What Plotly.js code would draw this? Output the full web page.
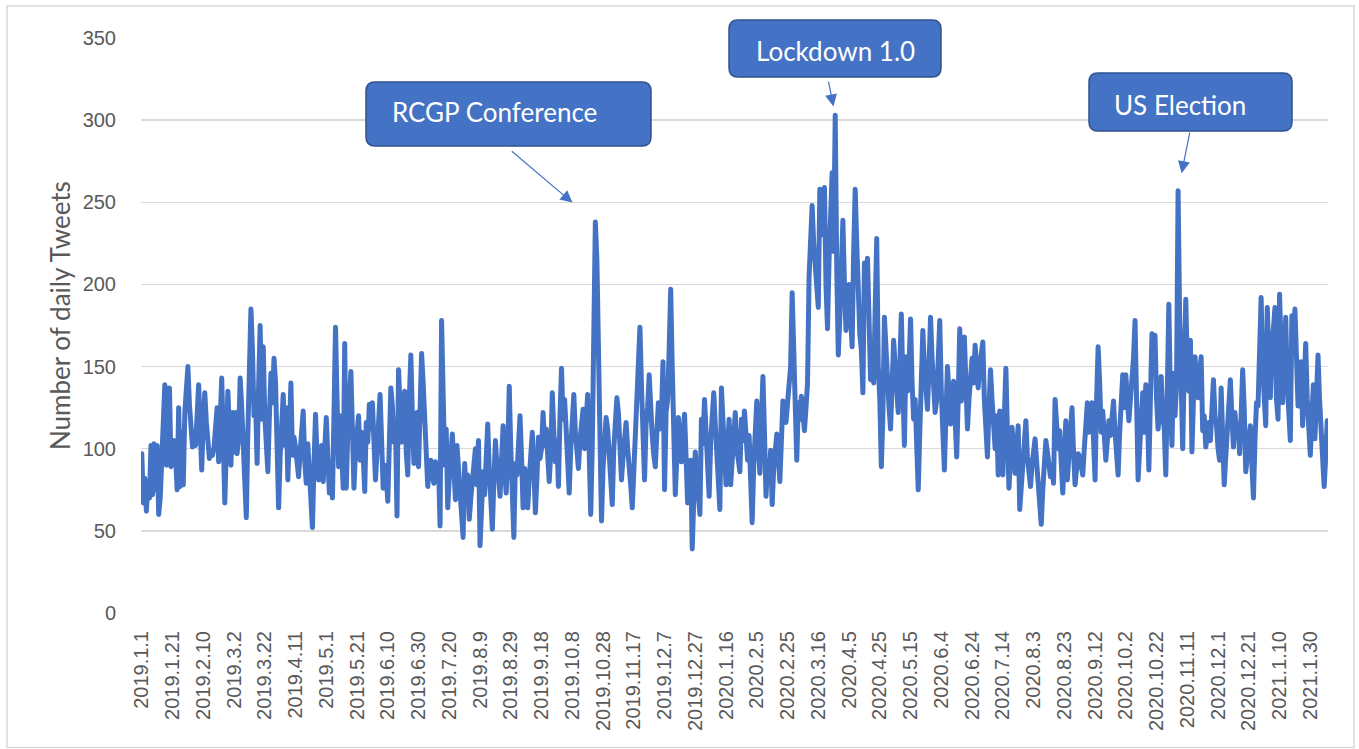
<!DOCTYPE html>
<html>
<head>
<meta charset="utf-8">
<script src="https://cdn.plot.ly/plotly-3.0.1.min.js"></script>
<style>
html,body{margin:0;padding:0;background:#fff;}
#chart{width:1359px;height:749px;}
.scatterlayer .js-line{stroke-linejoin:round !important;stroke-linecap:round !important;}
</style>
</head>
<body>
<div id="chart"></div>
<script>
// ---------------- data ----------------
const startDate = '2019-01-01';
const dailyTweets = [
97,67,82,62,78,70,102,72,103,75,
102,60,70,98,126,139,90,105,137,89,
92,105,96,75,125,77,110,78,122,140,
150,127,115,101,110,102,120,139,112,87,
118,134,116,100,94,99,96,101,110,125,
92,117,143,106,67,100,135,112,90,122,
98,122,97,107,143,125,105,94,58,110,
150,185,160,120,130,91,138,175,118,162,
120,100,86,120,146,128,155,140,100,64,
95,118,133,102,125,81,110,140,96,107,
101,94,83,98,108,123,92,79,103,84,
66,52,90,121,95,81,98,102,80,110,
119,96,73,92,70,120,174,130,89,120,
100,76,164,
76,110,128,147,112,76,98,
108,120,93,110,96,74,116,104,127,112,
128,100,81,98,112,133,105,76,90,84,
68,105,137,126,104,115,59,148,118,104,
120,135,98,84,130,157,120,91,100,122,
89,118,158,140,112,95,77,88,93,84,
79,92,86,90,53,178,122,90,112,64,
82,95,109,88,69,102,85,69,60,46,
91,75,84,57,70,83,92,100,78,105,
41,65,86,72,98,115,88,70,51,80,
105,90,84,71,95,114,88,73,96,138,
100,80,46,91,84,102,120,95,64,88,
76,64,82,95,110,88,61,82,107,94,
100,122,102,112,91,80,
98,134,110,92,
105,77,120,149,118,130,112,95,73,100,
118,133,110,98,88,105,115,124,100,112,
133,98,60,102,180,238,215,160,100,56,
88,105,119,112,98,84,66,100,118,131,
122,104,81,95,108,116,100,92,78,64,
90,110,128,150,174,138,105,81,115,125,
145,120,108,96,89,110,128,112,120,153,
75,122,130,160,197,150,100,72,95,119,
100,92,110,121,95,67,88,93,39,70,
98,85,72,60,118,103,130,112,95,71,
104,118,134,115,99,80,63,137,110,95,
78,100,118,78,96,110,122,100,90,86,
118,105,123,
110,93,108,80,55,90,112,
129,100,85,118,144,110,71,92,80,99,
66,88,100,109,95,80,105,129,121,116,
128,139,150,195,150,110,93,128,118,132,
120,111,125,140,205,232,248,225,210,195,
186,258,230,248,259,200,173,215,240,268,
220,303,210,157,180,205,239,200,172,190,
200,180,162,220,258,225,184,170,160,134,
213,190,216,175,142,160,140,185,228,150,
130,89,120,180,155,140,125,112,140,166,
150,140,122,150,182,140,102,156,135,150,
179,140,118,130,100,75,110,140,172,150,
135,124,150,180,155,140,122,130,150,178,
135,110,87,120,150,135,
115,125,141,118,
95,130,173,129,145,168,140,112,130,145,
155,140,163,150,137,150,158,165,130,110,
95,125,148,130,115,100,120,84,123,100,
84,120,149,110,76,95,113,100,85,100,
114,63,75,89,100,117,95,85,77,90,
100,106,92,81,70,54,75,92,105,98,
88,83,90,79,130,115,100,111,90,73,
95,117,81,100,112,125,98,78,88,97,
95,90,84,100,118,128,110,120,128,105,
81,130,162,140,110,123,108,93,105,117,
108,120,129,110,95,84,110,130,145,125,
145,130,117,130,141,155,178,125,81,
100,
120,134,110,139,125,87,130,170,150,169,
130,112,125,144,120,112,84,140,188,130,
102,146,120,140,257,180,130,100,150,191,
150,135,166,98,130,156,140,131,145,156,
111,120,101,108,116,105,125,142,120,114,
100,93,137,100,78,95,115,130,142,120,
101,122,108,115,97,120,148,125,86,95,
110,114,90,70,105,128,126,160,192,150,
130,114,186,150,131,160,170,186,130,118,
194,150,128,160,180,140,120,105,181,160,
185,150,126,140,153,114,140,164,130,110,
96,120,139,106,130,157,130,110,90,77,
95,117
];
const eventLabels = ['RCGP Conference', 'Lockdown 1.0', 'US Election'];
const eventDates  = ['2019-10-23', '2020-03-27', '2020-11-05'];
const yTicks = [0, 50, 100, 150, 200, 250, 300, 350];
const yTitle = 'Number of daily Tweets';

// ---------------- helpers ----------------
const DAY = 86400000;
const t0 = Date.parse(startDate + 'T00:00:00Z');
const isoDay = i => new Date(t0 + i * DAY).toISOString().slice(0, 10);
const dates = dailyTweets.map((_, i) => isoDay(i));

// plot geometry (pixels)
const W = 1359, H = 749;
const M = {l: 141, r: 31, t: 38, b: 136};
const PW = W - M.l - M.r, PH = H - M.t - M.b;
const px = x => (x - M.l) / PW;
const py = y => (H - M.b - y) / PH;

function roundRect(x0, y0, x1, y1, r) {
  const P = (x, y) => px(x).toFixed(5) + ',' + py(y).toFixed(5);
  return 'M' + P(x0 + r, y0) + ' L' + P(x1 - r, y0) + ' Q' + P(x1, y0) + ' ' + P(x1, y0 + r) +
         ' L' + P(x1, y1 - r) + ' Q' + P(x1, y1) + ' ' + P(x1 - r, y1) +
         ' L' + P(x0 + r, y1) + ' Q' + P(x0, y1) + ' ' + P(x0, y1 - r) +
         ' L' + P(x0, y0 + r) + ' Q' + P(x0, y0) + ' ' + P(x0 + r, y0) + ' Z';
}

// callout styling / placement (pixels)
const calloutBoxes = [
  {x0: 366, y0: 82, x1: 651, y1: 146, tx: 494, ty: 112, ax: -85, ay: -72, standoff: 30},
  {x0: 729, y0: 20, x1: 941, y1: 77, tx: 835, ty: 51, ax: -7, ay: -35, standoff: 9},
  {x0: 1089, y0: 73, x1: 1292, y1: 131, tx: 1180, ty: 105, ax: 12, ay: -60, standoff: 18}
];

const blue = '#4472C4', blueDark = '#2F528F', grey = '#595959', grid = '#D9D9D9';

const shapes = [{
  type: 'rect', xref: 'paper', yref: 'paper',
  x0: px(7), x1: px(1354), y0: py(6), y1: py(747.5),
  line: {color: grid, width: 1.5}, fillcolor: 'rgba(0,0,0,0)', layer: 'below'
}];
const annotations = [{
  xref: 'paper', yref: 'paper', x: px(60), y: py(316),
  xanchor: 'center', yanchor: 'middle', showarrow: false, textangle: -90,
  text: yTitle,
  font: {family: 'Lato, "Open Sans", sans-serif', size: 26, color: grey}
}];
calloutBoxes.forEach((b, i) => {
  shapes.push({
    type: 'path', xref: 'paper', yref: 'paper',
    path: roundRect(b.x0, b.y0, b.x1, b.y1, 9),
    fillcolor: blue, line: {color: blueDark, width: 1.5}, layer: 'above'
  });
  annotations.push({
    xref: 'paper', yref: 'paper', x: px(b.tx), y: py(b.ty),
    xanchor: 'center', yanchor: 'middle', showarrow: false,
    text: eventLabels[i],
    font: {family: 'Lato, "Open Sans", sans-serif', size: 26, color: '#ffffff'}
  });
  const idx = dates.indexOf(eventDates[i]);
  annotations.push({
    xref: 'x', yref: 'y', x: eventDates[i], y: dailyTweets[idx],
    text: '', showarrow: true, ax: b.ax, ay: b.ay,
    arrowhead: 2, arrowsize: 2, arrowwidth: 1.2, arrowcolor: blue,
    standoff: b.standoff
  });
});

const trace = {
  type: 'scatter', mode: 'lines', x: dates, y: dailyTweets,
  line: {color: blue, width: 5}, hoverinfo: 'skip'
};

const layout = {
  width: W, height: H, margin: M,
  paper_bgcolor: '#ffffff', plot_bgcolor: '#ffffff',
  showlegend: false,
  xaxis: {
    type: 'date',
    range: [new Date(t0 - DAY / 2).toISOString(), new Date(t0 + (dailyTweets.length - 0.5) * DAY).toISOString()],
    tick0: startDate, dtick: 20 * DAY, tickmode: 'linear',
    tickformat: '%Y.%-m.%-d', tickangle: -90,
    tickfont: {family: '"Liberation Sans", Arial, sans-serif', size: 20, color: grey},
    showgrid: false, zeroline: false, showline: false,
    ticks: 'outside', ticklen: 9, tickcolor: 'rgba(0,0,0,0)',
    automargin: false, fixedrange: true
  },
  yaxis: {
    range: [0, 350], tickmode: 'array', tickvals: yTicks,
    ticktext: yTicks.map(String),
    showgrid: true, gridcolor: grid, gridwidth: 1.5,
    zeroline: false, showline: false,
    ticks: 'outside', ticklen: 20, tickcolor: 'rgba(0,0,0,0)',
    tickfont: {family: '"Liberation Sans", Arial, sans-serif', size: 20, color: grey},
    automargin: false, fixedrange: true
  },
  shapes: shapes,
  annotations: annotations
};

Plotly.newPlot('chart', [trace], layout, {displayModeBar: false, staticPlot: true});
</script>
</body>
</html>
